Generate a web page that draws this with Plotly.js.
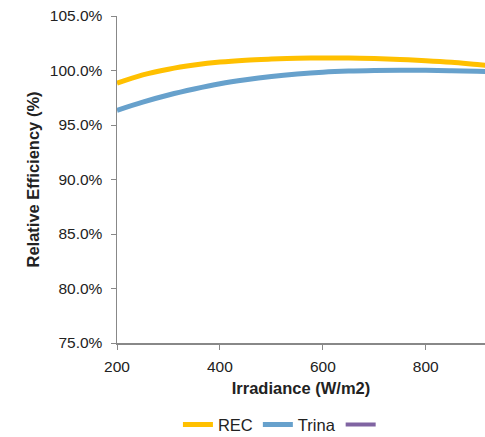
<!DOCTYPE html>
<html><head><meta charset="utf-8">
<script src="https://cdn.plot.ly/plotly-3.0.1.min.js"></script>
<style>html,body{margin:0;padding:0;background:#fff}#chart{width:485px;height:437px}</style>
</head><body><div id="chart"></div>
<script>
const irradiance = [200,250,300,350,400,450,500,550,600,650,700,750,800,850,900,950];
const rec   = [98.83,99.6,100.12,100.5,100.78,100.95,101.05,101.12,101.15,101.15,101.1,101.02,100.9,100.75,100.55,100.35];
const trina = [96.35,97.1,97.75,98.3,98.78,99.15,99.45,99.68,99.85,99.95,100.0,100.02,100.02,99.98,99.92,99.85];
const other = irradiance.map(() => null);
const yTicks = [75,80,85,90,95,100,105];
const xTicks = [200,400,600,800];

const traces = [
  {x: irradiance, y: rec, name: 'REC', mode: 'lines', line: {color: '#FFC000', width: 5, shape: 'spline'}},
  {x: irradiance, y: trina, name: 'Trina', mode: 'lines', line: {color: '#67A1CC', width: 5, shape: 'spline'}},
  {x: irradiance, y: other, name: ' ', mode: 'lines', line: {color: '#8064A2', width: 4}}
];
const fam = 'Liberation Sans, Arial, sans-serif';
const layout = {
  width: 485, height: 437,
  margin: {l: 117, r: 0, t: 16, b: 94},
  paper_bgcolor: '#fff', plot_bgcolor: '#fff',
  font: {family: fam, size: 15.5, color: '#222'},
  showlegend: true,
  legend: {orientation: 'h', x: 0.455, xanchor: 'center', xref: 'paper', yref: 'container', y: 0.028, yanchor: 'middle',
           font: {size: 16.5, color: '#222', family: fam}, itemwidth: 30, tracegroupgap: 0},
  xaxis: {
    range: [200, 915], tickvals: xTicks, ticktext: xTicks.map(String),
    showgrid: false, zeroline: false, showline: true, linecolor: '#888', linewidth: 1.5,
    ticks: 'outside', ticklen: 5, tickcolor: '#888', tickfont: {size: 15.5, color: '#222'}, ticklabelstandoff: 4,
    title: {text: '<b>Irradiance (W/m2)</b>', font: {size: 16.5, color: '#222'}, standoff: 8}
  },
  yaxis: {
    range: [75, 105], tickvals: yTicks, ticktext: yTicks.map(v => v.toFixed(1) + '%'),
    showgrid: false, zeroline: false, showline: true, linecolor: '#888', linewidth: 1.5,
    ticks: 'outside', ticklen: 5, tickcolor: '#888', tickfont: {size: 15.5, color: '#222'}, ticklabelstandoff: 5,
    title: {text: '<b>Relative Efficiency (%)</b>', font: {size: 16.5, color: '#222'}, standoff: 6}
  }
};
Plotly.newPlot('chart', traces, layout, {displayModeBar: false, staticPlot: true});
</script>
</body></html>
